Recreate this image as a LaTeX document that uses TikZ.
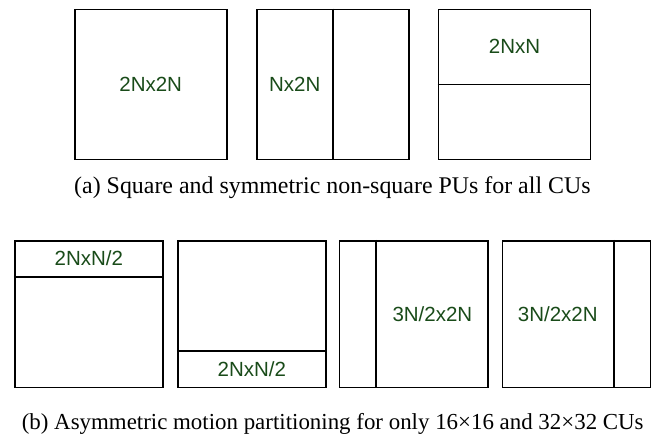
\documentclass[tikz,border=0pt]{standalone}
\usepackage{fontspec}
\setmainfont{Liberation Serif}
\newfontfamily\lblfont{Liberation Sans}
\usetikzlibrary{calc}
\definecolor{lblgreen}{RGB}{25,75,25}
\begin{document}
\begin{tikzpicture}[x=1pt,y=-1pt,
  pubox/.style={draw=black,line width=1.6pt,rectangle,inner sep=0pt,minimum width=152pt,minimum height=150pt},
  amp/.style={draw=black,line width=1.6pt,rectangle,inner sep=0pt,minimum width=148.3pt,minimum height=146.6pt},
  divider/.style={draw=black,line width=1.6pt},
  lbl/.style={inner sep=0pt,text=lblgreen,font=\lblfont\fontsize{20.5}{24}\selectfont},
  captext/.style={inner sep=0pt,anchor=base}]
\useasboundingbox (0,0) rectangle (656,434);
% top row
\node[pubox] (b1) at (150.7,84.3) {};
\node[pubox] (b2) at (333.2,84.3) {};
\node[pubox] (b3) at (514.5,84.3) {};
\draw[divider] (b2.north) -- (b2.south);
\draw[divider] (b3.west) -- (b3.east);
\node[lbl] (l1) at (b1.center) {2Nx2N};
\node[lbl] (l2) at ($(b2.west)!0.5!(b2.center)$) {Nx2N};
\node[lbl] (l3) at ($(b3.north)!0.5!(b3.center)$) {2NxN};
\node[captext,font=\fontsize{23.9}{28}\selectfont] (capa) at (332.4,193) {(a) Square and symmetric non-square PUs for all CUs};
% bottom row
\node[amp] (A) at (88.85,314) {};
\node[amp] (B) at (251.85,314) {};
\node[amp] (C) at (413.65,314) {};
\node[amp] (D) at (576.5,314) {};
\draw[divider] ($(A.north west)!0.25!(A.south west)$) -- ($(A.north east)!0.25!(A.south east)$);
\draw[divider] ($(B.north west)!0.75!(B.south west)$) -- ($(B.north east)!0.75!(B.south east)$);
\draw[divider] ($(C.north west)!0.25!(C.north east)$) -- ($(C.south west)!0.25!(C.south east)$);
\draw[divider] ($(D.north west)!0.75!(D.north east)$) -- ($(D.south west)!0.75!(D.south east)$);
\node[lbl] (lA) at ($(A.north)!0.125!(A.south)$) {2NxN/2};
\node[lbl] (lB) at ($(B.north)!0.875!(B.south)$) {2NxN/2};
\node[lbl] (lC) at ($(C.east)!0.375!(C.west)$) {3N/2x2N};
\node[lbl] (lD) at ($(D.west)!0.375!(D.east)$) {3N/2x2N};
\node[captext,font=\fontsize{22.9}{28}\selectfont] (capb) at (332.7,429) {(b) Asymmetric motion partitioning for only 16×16 and 32×32 CUs};
\end{tikzpicture}
\end{document}
